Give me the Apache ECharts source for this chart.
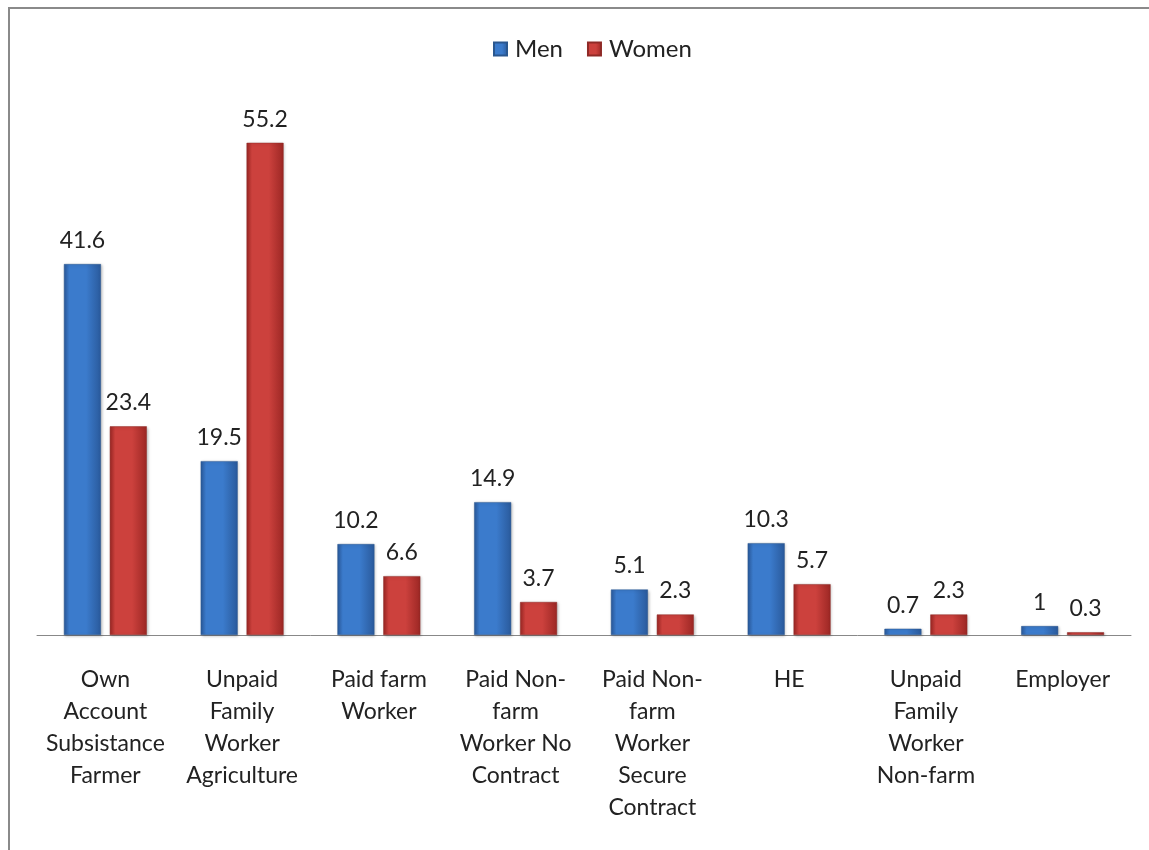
<!DOCTYPE html>
<html>
<head>
<meta charset="utf-8">
<script src="https://cdn.jsdelivr.net/npm/echarts@6/dist/echarts.min.js"></script>
<style>
html,body{margin:0;padding:0;background:#fff;}
#frame{position:absolute;left:8px;top:7px;width:1141px;height:843px;border-left:2px solid #8a8a8a;border-top:2px solid #8a8a8a;}
#chart{position:absolute;left:0;top:0;width:1149px;height:850px;}
</style>
</head>
<body>
<div id="frame"></div>
<div id="chart"></div>
<script>
const categories = [
  "Own\nAccount\nSubsistance\nFarmer",
  "Unpaid\nFamily\nWorker\nAgriculture",
  "Paid farm\nWorker",
  "Paid Non-\nfarm\nWorker No\nContract",
  "Paid Non-\nfarm\nWorker\nSecure\nContract",
  "HE",
  "Unpaid\nFamily\nWorker\nNon-farm",
  "Employer"
];
const menValues = [41.6, 19.5, 10.2, 14.9, 5.1, 10.3, 0.7, 1];
const womenValues = [23.4, 55.2, 6.6, 3.7, 2.3, 5.7, 2.3, 0.3];
const seriesNames = ["Men", "Women"];

const FONT = "Lato, 'Open Sans', sans-serif";
function grad(edge, mid){
  return new echarts.graphic.LinearGradient(0,0,1,0,[
    {offset:0,color:edge},{offset:0.15,color:mid},{offset:0.6,color:mid},{offset:1,color:edge}
  ]);
}
const chart = echarts.init(document.getElementById('chart'));
chart.setOption({
  animation:false,
  legend:{
    top:32, left:488, itemWidth:13, itemHeight:13, itemGap:24,
    icon:'rect',
    textStyle:{fontFamily:FONT,fontSize:24,color:'#222',padding:[0,0,0,3]},
    data:seriesNames
  },
  grid:{left:37,right:18,top:100,bottom:215},
  xAxis:{
    type:'category', data:categories,
    axisLine:{lineStyle:{color:'#888',width:1}},
    axisTick:{show:false},
    axisLabel:{interval:0,margin:29,fontFamily:FONT,fontSize:23,color:'#222',lineHeight:32,align:'center'}
  },
  yAxis:{type:'value',min:0,max:60,show:false,splitLine:{show:false}},
  series:[
    {name:seriesNames[0],type:'bar',data:menValues,barWidth:37,barGap:'24%',
     itemStyle:{color:grad('#2a5a9c','#3b7bcc'),borderColor:'#2a578f',borderWidth:0.5,shadowColor:'rgba(0,0,0,0.25)',shadowBlur:3,shadowOffsetX:1,shadowOffsetY:1},
     label:{show:true,position:'top',distance:12,fontFamily:FONT,fontSize:23,color:'#222'}},
    {name:seriesNames[1],type:'bar',data:womenValues,barWidth:37,
     itemStyle:{color:grad('#9c2724','#cc413d'),borderColor:'#8f2a27',borderWidth:0.5,shadowColor:'rgba(0,0,0,0.25)',shadowBlur:3,shadowOffsetX:1,shadowOffsetY:1},
     label:{show:true,position:'top',distance:12,fontFamily:FONT,fontSize:23,color:'#222'}}
  ]
});
</script>
</body>
</html>
